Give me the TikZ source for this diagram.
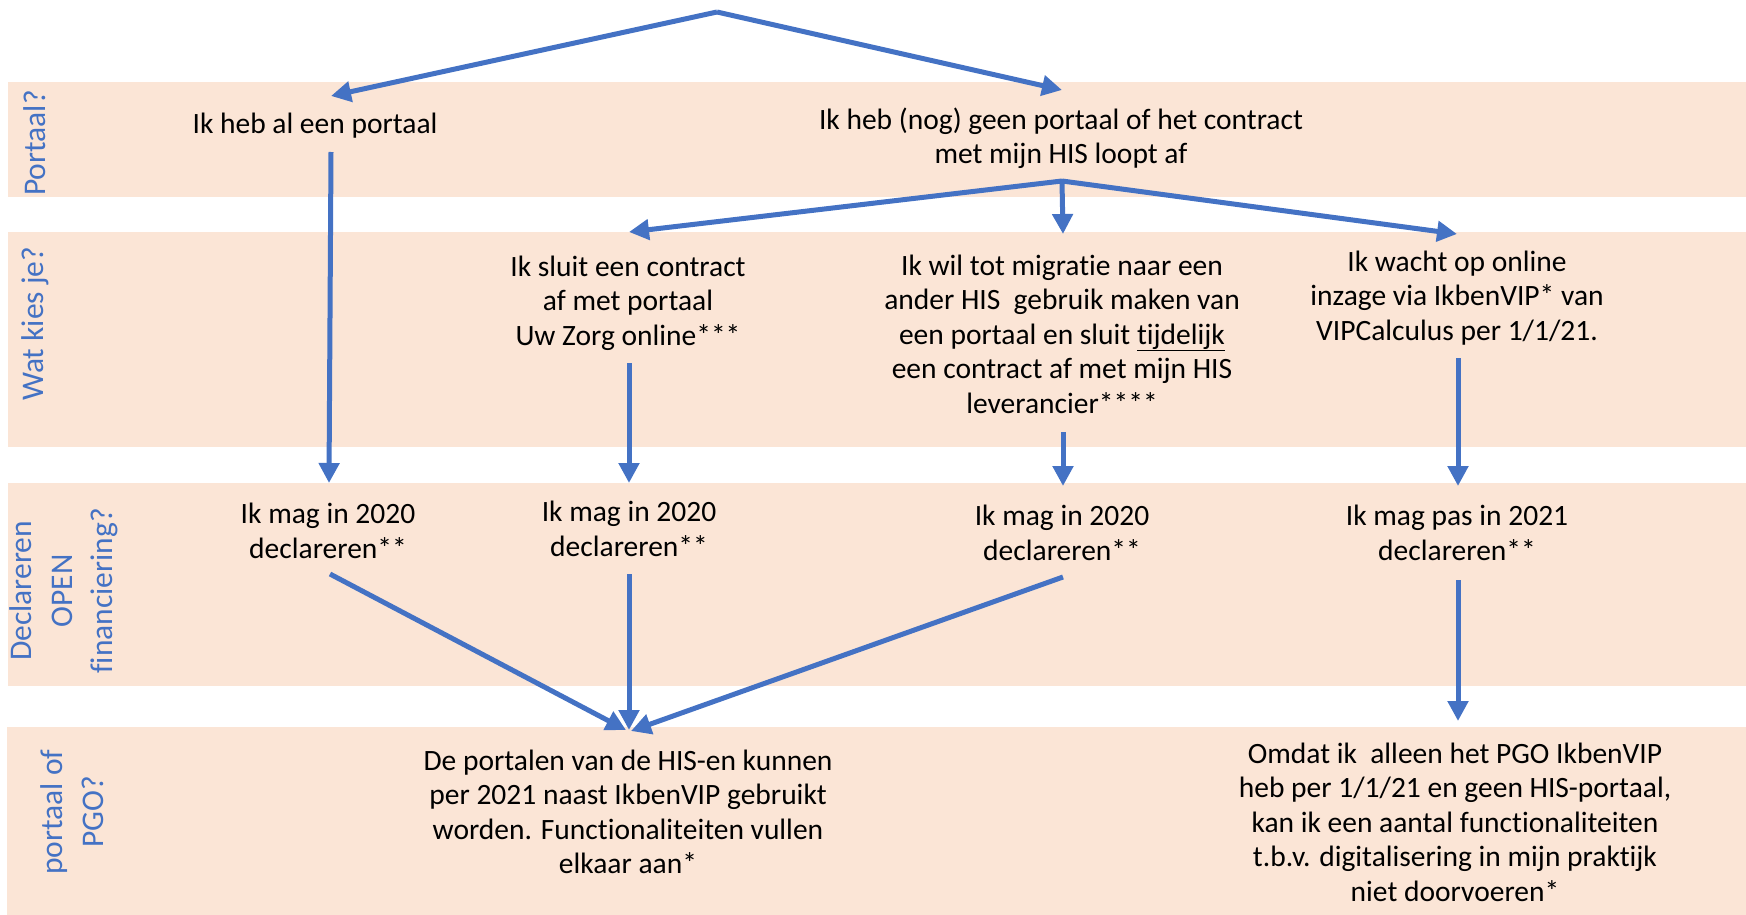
\documentclass[tikz,border=0pt]{standalone}
\usepackage{fontspec}
\setmainfont{Carlito}[Ligatures=NoCommon]
\usetikzlibrary{arrows.meta}
\definecolor{peach}{HTML}{FBE5D6}
\definecolor{ablue}{HTML}{4472C4}
\begin{document}
\begin{tikzpicture}[x=1pt,y=-1pt,
  band/.style={fill=peach,draw=none},
  txt/.style={align=center,inner sep=0pt,font=\fontsize{29.5}{34.5}\selectfont,text=black},
  lbl/.style={align=center,inner sep=0pt,rotate=90,font=\fontsize{31.5}{40.5}\selectfont,text=ablue},
  arr/.style={draw=ablue,line width=5pt,-{Triangle[length=20pt,width=20pt]}}]
\useasboundingbox (0,0) rectangle (1746,915);
% bands
\fill[band] (8,82) rectangle (1746,197);
\fill[band] (8,232) rectangle (1746,447);
\fill[band] (8,483) rectangle (1746,686);
\fill[band] (7,727) rectangle (1746,915);
% row labels
\node[lbl] (l1) at (35,143) {Portaal?};
\node[lbl] (l2) at (35,324) {Wat kies je?};
\node[lbl] (l3) at (64,591) {Declareren\\OPEN\\financiering?};
\node[lbl] (l4) at (72,812) {portaal of\\PGO?};
% texts
\node[txt] (a1) at (315,126) {Ik heb al een portaal};
\node[txt] (a2) at (1061,138) {Ik heb (nog) geen portaal of het contract\\met mijn HIS loopt af};
\node[txt] (b1) at (628,303) {Ik sluit een contract\\af met portaal\\Uw Zorg online***};
\node[txt] (b2) at (1062,334) {Ik wil tot migratie naar een\\ander HIS~ gebruik maken van\\een portaal en sluit \underline{tijdelijk}\\een contract af met mijn HIS\\leverancier****};
\node[txt] (b3) at (1457,298) {Ik wacht op online\\inzage via IkbenVIP* van\\VIPCalculus per 1/1/21.};
\node[txt] (c1) at (328,531) {Ik mag in 2020\\declareren**};
\node[txt] (c2) at (629,529) {Ik mag in 2020\\declareren**};
\node[txt] (c3) at (1062,533) {Ik mag in 2020\\declareren**};
\node[txt] (c4) at (1457,533) {Ik mag pas in 2021\\declareren**};
\node[txt] (d1) at (628,812) {De portalen van de HIS-en kunnen\\per 2021 naast IkbenVIP gebruikt\\worden. Functionaliteiten vullen\\elkaar aan*};
\node[txt] (d2) at (1455,822) {Omdat ik~ alleen het PGO IkbenVIP\\heb per 1/1/21 en geen HIS-portaal,\\kan ik een aantal functionaliteiten\\t.b.v. digitalisering in mijn praktijk\\niet doorvoeren*};
% arrow coordinates
\coordinate (top) at (717,12);
\coordinate (ta1) at (331,96);
\coordinate (ta2) at (1062,90);
\coordinate (s1) at (331,152);
\coordinate (e1) at (329,483);
\coordinate (br) at (1062,181);
\coordinate (tb1) at (629,232);
\coordinate (tb2) at (1063,234);
\coordinate (tb3) at (1457,234);
\coordinate (s2) at (629,363);
\coordinate (e2) at (629,483);
\coordinate (s3) at (1063,432);
\coordinate (e3) at (1063,486);
\coordinate (s4) at (1458,358);
\coordinate (e4) at (1458,486);
\coordinate (f1) at (330,574);
\coordinate (f2) at (629,574);
\coordinate (f3) at (1063,577);
\coordinate (f4) at (1458,580);
\coordinate (g1) at (626,730);
\coordinate (g2) at (629,730);
\coordinate (g3) at (631,731);
\coordinate (g4) at (1458,721);
% arrows
\draw[arr] (top) -- (ta1);
\draw[arr] (top) -- (ta2);
\draw[arr] (s1) -- (e1);
\draw[arr] (br) -- (tb1);
\draw[arr] (br) -- (tb2);
\draw[arr] (br) -- (tb3);
\draw[arr] (s2) -- (e2);
\draw[arr] (s3) -- (e3);
\draw[arr] (s4) -- (e4);
\draw[arr] (f1) -- (g1);
\draw[arr] (f2) -- (g2);
\draw[arr] (f3) -- (g3);
\draw[arr] (f4) -- (g4);
\end{tikzpicture}
\end{document}
